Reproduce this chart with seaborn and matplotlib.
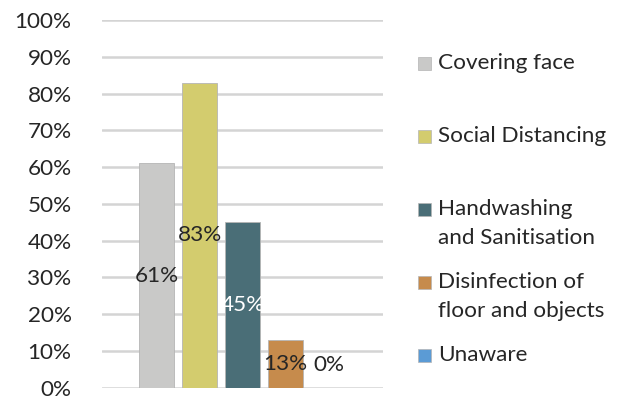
import matplotlib
matplotlib.use("Agg")
import matplotlib.pyplot as plt
from matplotlib.patches import Rectangle
import seaborn as sns
import pandas as pd

# Survey responses: share of respondents aware of each preventive measure
categories = ["Covering face", "Social Distancing", "Handwashing\nand Sanitisation",
              "Disinfection of\nfloor and objects", "Unaware"]
values = [0.61, 0.83, 0.45, 0.13, 0.00]
value_labels = ["61%", "83%", "45%", "13%", "0%"]
colors = ["#c9c9c8", "#d3cc6e", "#4a6e77", "#c68b4c", "#5b9bd5"]
label_colors = ["#262626", "#262626", "#ffffff", "#262626", "#262626"]
y_ticks = [0.0, 0.1, 0.2, 0.3, 0.4, 0.5, 0.6, 0.7, 0.8, 0.9, 1.0]
y_tick_labels = ["0%", "10%", "20%", "30%", "40%", "50%", "60%", "70%", "80%", "90%", "100%"]

sns.set_theme(style="white")
plt.rcParams["font.family"] = ["Lato", "DejaVu Sans"]
FS = 16.2
TXT = "#262626"

df = pd.DataFrame({"measure": categories, "share": values})

fig = plt.figure(figsize=(6.30, 4.01), dpi=100)
ax = fig.add_axes([0.162, 0.033, 0.446, 0.917])

sns.barplot(data=df, x="measure", y="share", hue="measure", palette=colors,
            width=0.814, legend=False, ax=ax, edgecolor="#b5b5b5", linewidth=0.6,
            saturation=1)

ax.set_xlim(-1.267, 5.267)
ax.set_ylim(0, 1.0)
ax.set_yticks(y_ticks)
ax.set_yticklabels(y_tick_labels, fontsize=FS, color=TXT)
ax.tick_params(axis="y", length=0, pad=22)
ax.set_xticks([])
ax.set_xlabel("")
ax.set_ylabel("")
for s in ax.spines.values():
    s.set_visible(False)
ax.yaxis.grid(True, color="#d4d4d4", linewidth=1.8)
ax.set_axisbelow(True)

# Value labels centred in each bar
for i, (v, lab, c) in enumerate(zip(values, value_labels, label_colors)):
    y = v / 2 if v > 0 else 0.062
    ax.text(i, y, lab, ha="center", va="center", fontsize=FS, color=c)

# Legend: evenly spaced entries, multi-line labels hang below their marker
top_y = 1 - 63 / 401
step = 73 / 401
sq_w, sq_h = 13 / 630, 13 / 401
for i, (name, c) in enumerate(zip(categories, colors)):
    yc = top_y - i * step
    fig.patches.append(Rectangle((418 / 630, yc - sq_h / 2), sq_w, sq_h,
                                 transform=fig.transFigure, facecolor=c,
                                 edgecolor="#b5b5b5", linewidth=0.5))
    fig.text(438 / 630, yc + 10 / 401, name, ha="left", va="top",
             fontsize=FS, color=TXT, linespacing=1.55)

fig.savefig("out.png", dpi=100)
